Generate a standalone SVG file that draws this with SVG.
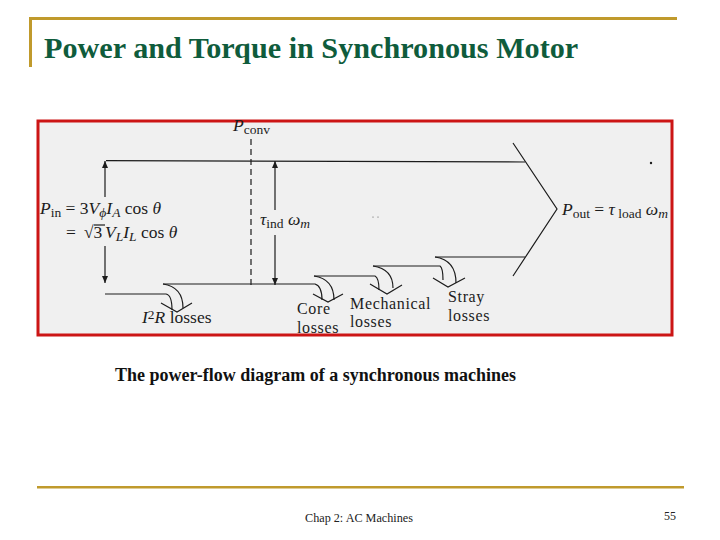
<svg xmlns="http://www.w3.org/2000/svg" width="720" height="540" viewBox="0 0 720 540">
<style>
text{font-family:"Liberation Serif","Times New Roman",serif;fill:#1c1c1c}
.l{fill:none;stroke:#1c1c1c;stroke-width:1.2}
.t{font-size:17.5px}
.w{font-size:16px;letter-spacing:.65px}
.s{font-size:13.5px}
.i{font-style:italic}
.g{fill:#c09a2c}
</style>
<defs>
<marker id="a" markerWidth="8" markerHeight="10" refX="7" refY="4" orient="auto" markerUnits="userSpaceOnUse"><path d="M0 1L7 4L0 7Z" fill="#1c1c1c"/></marker>
</defs>
<rect width="720" height="540" fill="#fff"/>
<g id="slide-frame">
<rect class="g" x="30" y="17" width="647" height="3"/>
<rect class="g" x="29" y="17" width="3" height="50"/>
<rect class="g" x="37" y="486" width="647" height="2.5"/>
</g>
<text x="44" y="58" font-size="30.2" font-weight="700" style="fill:#0f5c3c">Power and Torque in Synchronous Motor</text>
<rect id="panel" x="38" y="121" width="634" height="214" fill="#f0f0f0" stroke="#cc1515" stroke-width="3"/>
<g id="connectors">
<path class="l" d="M106 160.7L525 162"/>
<path class="l" d="M513 143L557 209L513 276"/>
<path class="l" d="M435 257H525"/>
<path class="l" d="M105 197V161" marker-end="url(#a)"/>
<path class="l" d="M105 246V283" marker-end="url(#a)"/>
<path class="l" d="M275 210V161" marker-end="url(#a)"/>
<path class="l" d="M275 235V285" marker-end="url(#a)"/>
<path class="l" d="M251 139V285" stroke-dasharray="6 4"/>
<path class="l" d="M105 294H166Q172 295 172 310"/>
<path class="l" d="M163 284H315Q322 286 322 300"/>
<path class="l" d="M163 284Q183 287 183 308"/>
<path class="l" d="M161 303L177 312L192 303"/>
<path class="l" d="M314 276H375Q379 278 379 290"/>
<path class="l" d="M314 276Q334 279 334 300"/>
<path class="l" d="M313 294L328 302L343 294"/>
<path class="l" d="M373 266H440Q443 268 443 280"/>
<path class="l" d="M373 266Q393 269 393 288"/>
<path class="l" d="M370 284L387 294L402 285"/>
<path class="l" d="M435 257Q456 260 456 283"/>
<path class="l" d="M433 278L448 287L465 278"/>
<path class="l" d="M94 225H105"/>
<circle cx="651" cy="163" r="1.2" fill="#1c1c1c"/>
<circle cx="373" cy="217" r=".6" fill="#555"/>
<circle cx="378" cy="217" r=".6" fill="#555"/>
</g>
<g id="label-pconv"><text class="t i" x="233" y="131">P<tspan class="s" dy="3" style="font-style:normal">conv</tspan></text></g>
<g id="label-pin">
<text class="t" x="40" y="214"><tspan class="i">P</tspan><tspan class="s" dy="3">in</tspan><tspan dy="-3"> = 3</tspan><tspan class="i">V</tspan><tspan class="s i" dy="3">ϕ</tspan><tspan class="i" dy="-3">I</tspan><tspan class="s i" dy="3">A</tspan><tspan dy="-3"> cos </tspan><tspan class="i">θ</tspan></text>
<text class="t" x="66" y="238">= <tspan x="84">√3</tspan><tspan class="i" x="105">V</tspan><tspan class="s i" dy="3">L</tspan><tspan class="i" dy="-3">I</tspan><tspan class="s i" dy="3">L</tspan><tspan dy="-3"> cos </tspan><tspan class="i">θ</tspan></text>
</g>
<g id="label-tind"><text class="t" x="260" y="225"><tspan class="i">τ</tspan><tspan class="s" dy="3">ind</tspan><tspan class="i" dy="-3"> ω</tspan><tspan class="s i" dy="3">m</tspan></text></g>
<g id="label-pout"><text class="t" x="562" y="215"><tspan class="i">P</tspan><tspan class="s" dy="3">out</tspan><tspan dy="-3"> = </tspan><tspan class="i">τ</tspan><tspan class="s" dy="3"> load</tspan><tspan class="i" dy="-3"> ω</tspan><tspan class="s i" dy="3">m</tspan></text></g>
<g id="label-i2r"><text class="t" x="142" y="323"><tspan class="i">I</tspan><tspan class="s" dy="-4">2</tspan><tspan class="i" dy="4">R</tspan> losses</text></g>
<g id="label-core"><text class="w" x="297" y="314">Core<tspan x="297" dy="18.6">losses</tspan></text></g>
<g id="label-mech"><text class="w" x="350" y="308.5">Mechanical<tspan x="350" dy="18.6">losses</tspan></text></g>
<g id="label-stray"><text class="w" x="448" y="302">Stray<tspan x="448" dy="18.6">losses</tspan></text></g>
<text x="115" y="381" font-size="18" font-weight="700" style="fill:#111">The power-flow diagram of a synchronous machines</text>
<text x="305" y="522" font-size="12.2" style="fill:#222">Chap 2: AC Machines</text>
<text x="664" y="520" font-size="12" style="fill:#222">55</text>
</svg>
